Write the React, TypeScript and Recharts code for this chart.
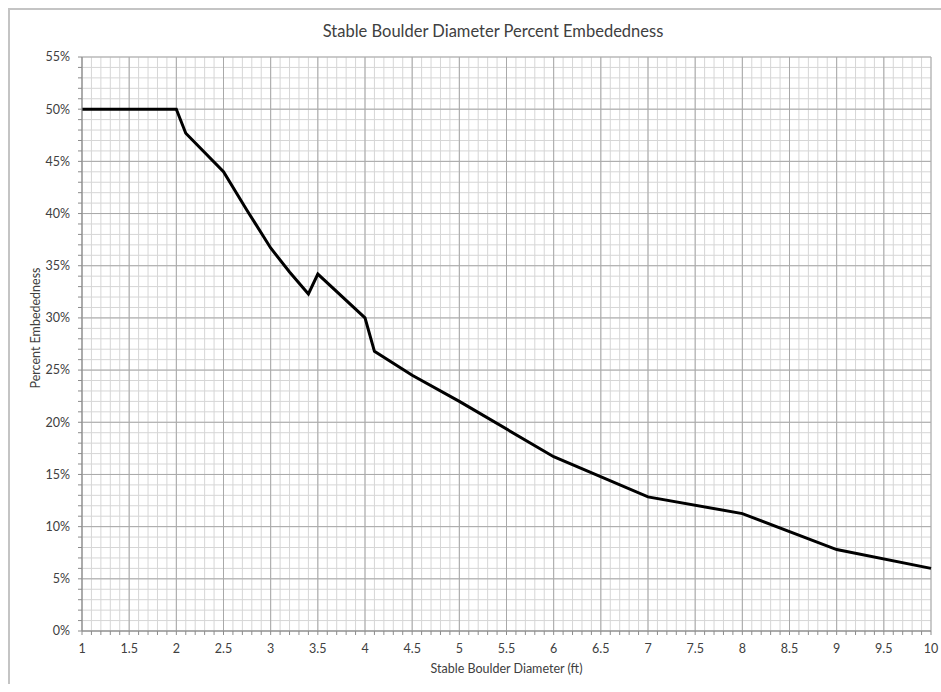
import { CartesianGrid, Label, Line, LineChart, XAxis, YAxis } from "recharts";

// stable boulder diameter (ft) vs percent embeddedness
const diameterFt = [1, 2, 2.1, 2.5, 2.75, 3, 3.2, 3.4, 3.5, 4, 4.1, 4.5, 5, 6, 7, 8, 9, 10];
const embedPct = [50, 50, 47.7, 44, 40.3, 36.7, 34.4, 32.3, 34.2, 30, 26.8, 24.5, 22, 16.7, 12.85, 11.25, 7.8, 6.0];

const xMajorTicks = [1, 1.5, 2, 2.5, 3, 3.5, 4, 4.5, 5, 5.5, 6, 6.5, 7, 7.5, 8, 8.5, 9, 9.5, 10];
const yMajorTicks = [0, 5, 10, 15, 20, 25, 30, 35, 40, 45, 50, 55];
// minor grid: every 0.1 ft and every 1%
const xMinorTicks = Array.from({ length: 91 }, (_, i) => Math.round(10 + i) / 10);
const yMinorTicks = Array.from({ length: 56 }, (_, i) => i);

const data = diameterFt.map((d, i) => ({ d, pct: embedPct[i] }));

const FONT = "Lato, 'Open Sans', sans-serif";
const TEXT = "#404040";
const AXIS = "#8c8c8c";

function XTick({ x, y, payload }: any) {
	if (!xMajorTicks.includes(payload.value)) return <g />;
	return (
		<text x={x} y={y} dy="0.71em" textAnchor="middle" fill={TEXT} fontSize={12.5} fontFamily={FONT}>
			{payload.value}
		</text>
	);
}

function YTick({ x, y, payload }: any) {
	if (!yMajorTicks.includes(payload.value)) return <g />;
	return (
		<text x={x} y={y} dy="0.35em" textAnchor="end" fill={TEXT} fontSize={12.5} fontFamily={FONT}>
			{`${payload.value}%`}
		</text>
	);
}

function YTitle({ viewBox }: any) {
	const cx = viewBox.x + 25;
	const cy = viewBox.y + viewBox.height / 2 - 16;
	return (
		<text
			x={cx}
			y={cy}
			transform={`rotate(-90 ${cx} ${cy})`}
			textAnchor="middle"
			dominantBaseline="central"
			fill={TEXT}
			fontSize={12.5}
			fontFamily={FONT}
		>
			Percent Embededness
		</text>
	);
}

export default function App() {
	return (
		<div
			style={{
				position: "relative",
				marginLeft: 8,
				marginTop: 8,
				width: 931,
				height: 674,
				borderTop: "2px solid #c4c4c4",
				borderLeft: "2px solid #c4c4c4",
				background: "#fff",
			}}
		>
			<style>{"body { margin: 0; overflow: hidden; }"}</style>
			<div
				style={{
					position: "absolute",
					top: 11,
					left: 483,
					transform: "translateX(-50%)",
					whiteSpace: "nowrap",
					fontFamily: FONT,
					fontSize: 16.5,
					lineHeight: "20px",
					color: TEXT,
				}}
			>
				Stable Boulder Diameter Percent Embededness
			</div>
			<LineChart
				width={931}
				height={674}
				data={data}
				margin={{ top: 47, right: 10, left: 0, bottom: 0 }}
				style={{ overflow: "visible" }}
			>
				<CartesianGrid stroke="#d6d6d6" strokeWidth={1} />
				<CartesianGrid
					verticalValues={xMajorTicks}
					horizontalValues={yMajorTicks}
					stroke="#a9a9a9"
					strokeWidth={1}
				/>
				<XAxis
					dataKey="d"
					type="number"
					domain={[1, 10]}
					ticks={xMinorTicks}
					interval={0}
					height={53}
					tickSize={4}
					tickMargin={9}
					axisLine={{ stroke: AXIS }}
					tickLine={{ stroke: AXIS }}
					tick={<XTick />}
				>
					<Label
						value="Stable Boulder Diameter (ft)"
						position="insideBottom"
						offset={11}
						fill={TEXT}
						fontSize={12.5}
						fontFamily={FONT}
					/>
				</XAxis>
				<YAxis
					type="number"
					domain={[0, 55]}
					ticks={yMinorTicks}
					interval={0}
					width={72}
					tickSize={4}
					tickMargin={8}
					axisLine={{ stroke: AXIS }}
					tickLine={{ stroke: AXIS }}
					tick={<YTick />}
				>
					<Label content={<YTitle />} />
				</YAxis>
				<Line
					dataKey="pct"
					type="linear"
					stroke="#000"
					strokeWidth={3}
					dot={false}
					isAnimationActive={false}
				/>
			</LineChart>
		</div>
	);
}
